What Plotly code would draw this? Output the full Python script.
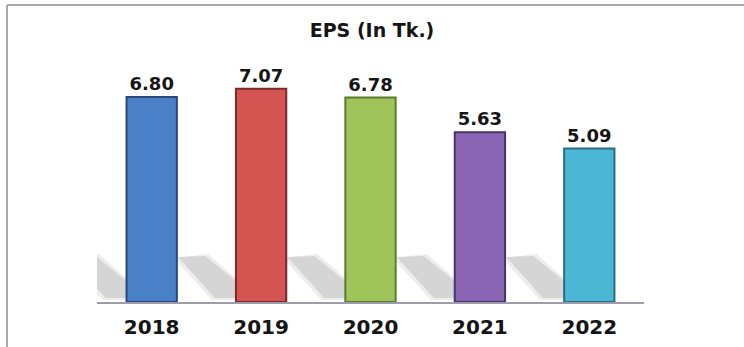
import plotly.graph_objects as go

# EPS per year (in Tk.)
years = ["2018", "2019", "2020", "2021", "2022"]
eps = [6.80, 7.07, 6.78, 5.63, 5.09]
labels = ["6.80", "7.07", "6.78", "5.63", "5.09"]

bar_colors = ["#4a80c8", "#d35450", "#9fc55a", "#8a65b3", "#4bb7d4"]
edge_colors = ["#28487a", "#7a2b29", "#5b7a2c", "#4a3569", "#2a6d80"]

FONT = "DejaVu Sans"
W, H = 744, 347
L, R, T, B = 97, 100, 40, 45
plot_w = W - L - R
plot_h = H - T - B
x_range = [-0.5, len(years) - 0.5]
y_max = 8.69
px_x = plot_w / (x_range[1] - x_range[0])   # pixels per category unit
px_y = plot_h / y_max                         # pixels per EPS unit
bar_w = 0.46

fig = go.Figure()

# soft floor shadows behind each bar, drawn as slanted bands to its left
shapes = []
for i in range(len(years)):
    left = i - bar_w / 2
    for pts, alpha in (
        ([(-62, 44), (-28, 48), (0, 24), (0, 2), (-24, 2)], 0.25),
        ([(-58, 45), (-31, 46), (0, 21), (0, 4), (-21, 4)], 0.45),
    ):
        path = "M " + " L ".join(
            f"{left + dx / px_x:.4f},{dy / px_y:.4f}" for dx, dy in pts) + " Z"
        shapes.append(dict(type="path", path=path, xref="x", yref="y",
                           fillcolor=f"rgba(185,185,185,{alpha})",
                           line=dict(width=0), layer="below"))

# outer frame (top and left edges)
px_to_paper_x = lambda p: (p - L) / plot_w
px_to_paper_y = lambda p: (H - B - p) / plot_h
shapes.append(dict(type="line", xref="paper", yref="paper",
                   x0=px_to_paper_x(7), x1=px_to_paper_x(744),
                   y0=px_to_paper_y(5), y1=px_to_paper_y(5),
                   line=dict(color="#a8a8a8", width=2)))
shapes.append(dict(type="line", xref="paper", yref="paper",
                   x0=px_to_paper_x(7), x1=px_to_paper_x(7),
                   y0=px_to_paper_y(5), y1=px_to_paper_y(347),
                   line=dict(color="#a8a8a8", width=2)))

fig.add_trace(go.Bar(
    x=list(range(len(years))), y=eps, width=bar_w,
    marker=dict(color=bar_colors, line=dict(color=edge_colors, width=2)),
    text=labels, textposition="outside", cliponaxis=False,
    textfont=dict(family=FONT, size=18, color="#151515", weight="bold"),
))

fig.update_layout(
    width=W, height=H,
    margin=dict(l=L, r=R, t=T, b=B, autoexpand=False),
    paper_bgcolor="white", plot_bgcolor="white",
    showlegend=False,
    shapes=shapes,
    title=dict(text="<b>EPS (In Tk.)</b>", x=0.5, xref="container", xanchor="center",
               y=1 - 30 / H, yanchor="middle",
               font=dict(family=FONT, size=19, color="#151515")),
)
fig.update_xaxes(range=x_range, tickmode="array", tickvals=list(range(len(years))),
                 ticktext=[f"<b>{y}</b>" for y in years],
                 tickfont=dict(family=FONT, size=20, color="#151515"),
                 showline=True, linecolor="#9c9cab", linewidth=2, automargin=False,
                 showgrid=False, zeroline=False, ticks="", ticklabelstandoff=6)
fig.update_yaxes(range=[0, y_max], visible=False, showgrid=False, zeroline=False,
                 automargin=False)

fig.write_html("out.html")
